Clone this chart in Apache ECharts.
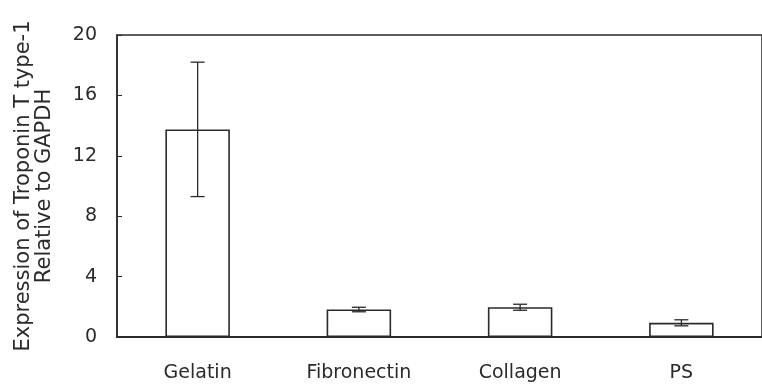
<!DOCTYPE html>
<html>
<head>
<meta charset="utf-8">
<script src="https://cdn.jsdelivr.net/npm/echarts@6/dist/echarts.min.js"></script>
<style>
html,body{margin:0;padding:0;background:#fff;}
#chart{width:762px;height:387px;}
</style>
</head>
<body>
<div id="chart"></div>
<script>
var categories = ['Gelatin', 'Fibronectin', 'Collagen', 'PS'];
var means = [13.75, 1.82, 1.97, 0.94];
var errors = [4.45, 0.15, 0.2, 0.2];
var yTicks = [0, 4, 8, 12, 16, 20];

var FONT = 'DejaVu Sans';
var INK = '#2a2a2a';

var chart = echarts.init(document.getElementById('chart'), null, {renderer: 'canvas'});
chart.setOption({
  backgroundColor: '#ffffff',
  animation: false,
  grid: {
    left: 117, top: 35, bottom: 50, right: -7,
    show: true, borderColor: INK, borderWidth: 1.5, backgroundColor: 'transparent'
  },
  xAxis: {
    type: 'category',
    data: categories,
    axisLine: {lineStyle: {color: INK, width: 2}},
    axisTick: {inside: true, length: 6, lineStyle: {color: INK, width: 1}},
    axisLabel: {color: INK, fontFamily: FONT, fontSize: 19, margin: 27}
  },
  yAxis: {
    type: 'value',
    min: yTicks[0], max: yTicks[yTicks.length - 1], interval: 4,
    name: 'Expression of Troponin T type-1\nRelative to GAPDH',
    nameLocation: 'middle',
    nameRotate: 90,
    nameGap: 62,
    nameTextStyle: {color: INK, fontFamily: FONT, fontSize: 21, lineHeight: 21, align: 'center'},
    axisLine: {show: true, lineStyle: {color: INK, width: 1.5}},
    axisTick: {show: true, inside: true, length: 5, lineStyle: {color: INK, width: 1}},
    splitLine: {show: false},
    axisLabel: {color: INK, fontFamily: FONT, fontSize: 19, margin: 20}
  },
  series: [
    {
      type: 'bar',
      data: means,
      barWidth: '40%',
      itemStyle: {color: '#ffffff', borderColor: INK, borderWidth: 1.6},
      z: 2
    },
    {
      type: 'custom',
      z: 3,
      data: means.map(function (m, i) { return [i, m - errors[i], m + errors[i]]; }),
      renderItem: function (params, api) {
        var x = api.value(0);
        var lo = api.coord([x, api.value(1)]);
        var hi = api.coord([x, api.value(2)]);
        var half = 7;
        var style = {stroke: INK, lineWidth: 1.3, fill: null};
        return {
          type: 'group',
          children: [
            {type: 'line', shape: {x1: hi[0], y1: hi[1], x2: lo[0], y2: lo[1]}, style: style},
            {type: 'line', shape: {x1: hi[0] - half, y1: hi[1], x2: hi[0] + half, y2: hi[1]}, style: style},
            {type: 'line', shape: {x1: lo[0] - half, y1: lo[1], x2: lo[0] + half, y2: lo[1]}, style: style}
          ]
        };
      }
    }
  ]
});
</script>
</body>
</html>
